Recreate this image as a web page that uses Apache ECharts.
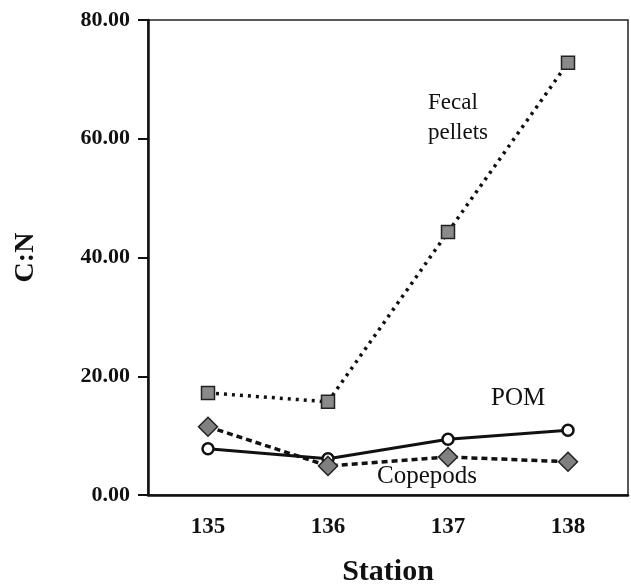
<!DOCTYPE html>
<html>
<head>
<meta charset="utf-8">
<script src="https://cdn.jsdelivr.net/npm/echarts@6/dist/echarts.min.js"></script>
<style>
  html, body { margin: 0; padding: 0; background: #fff; }
  #main { width: 631px; height: 585px; }
</style>
</head>
<body>
<div id="main"></div>
<script>
var stations = ['135', '136', '137', '138'];
var fecalPellets = [17.2, 15.7, 44.3, 72.8];
var pom = [7.8, 6.1, 9.4, 10.9];
var copepods = [11.5, 4.9, 6.4, 5.6];
var yTicks = [0, 20, 40, 60, 80];

var serif = '"Liberation Serif", "DejaVu Serif", serif';
var myChart = echarts.init(document.getElementById('main'));

myChart.setOption({
  animation: false,
  grid: {
    left: 148, right: 3, top: 20, bottom: 90,
    outerBoundsMode: 'none',
    containLabel: false,
    show: true, borderColor: '#222', borderWidth: 1.5
  },
  xAxis: {
    type: 'category',
    data: stations,
    boundaryGap: true,
    name: 'Station',
    nameLocation: 'middle',
    nameGap: 62,
    nameTextStyle: { fontFamily: serif, fontSize: 30, fontWeight: 'bold', color: '#111' },
    axisLine: { lineStyle: { color: '#111', width: 2.5 } },
    axisTick: { alignWithLabel: true, length: 9, lineStyle: { color: '#111', width: 2 } },
    axisLabel: { fontFamily: serif, fontSize: 23, fontWeight: 'bold', color: '#111', margin: 21 },
    splitLine: { show: false }
  },
  yAxis: {
    type: 'value',
    min: yTicks[0],
    max: yTicks[yTicks.length - 1],
    interval: 20,
    name: 'C:N',
    nameLocation: 'middle',
    nameGap: 108,
    nameRotate: 90,
    nameTextStyle: { fontFamily: serif, fontSize: 28, fontWeight: 'bold', color: '#111' },
    axisLine: { show: true, lineStyle: { color: '#111', width: 2.5 } },
    axisTick: { show: true, length: 10, lineStyle: { color: '#111', width: 2 } },
    axisLabel: {
      fontFamily: serif, fontSize: 22, fontWeight: 'bold', color: '#111', margin: 18,
      formatter: function (v) { return v.toFixed(2); }
    },
    splitLine: { show: false }
  },
  series: [
    {
      name: 'Fecal pellets',
      type: 'line',
      data: fecalPellets,
      symbol: 'rect',
      symbolSize: 13,
      itemStyle: { color: '#8a8a8a', borderColor: '#222', borderWidth: 1.5 },
      lineStyle: { color: '#111', width: 3.5, type: [3, 5] }
    },
    {
      name: 'POM',
      type: 'line',
      data: pom,
      symbol: 'circle',
      symbolSize: 11,
      itemStyle: { color: '#fff', borderColor: '#111', borderWidth: 2.5 },
      lineStyle: { color: '#111', width: 3 }
    },
    {
      name: 'Copepods',
      type: 'line',
      data: copepods,
      symbol: 'diamond',
      symbolSize: 19,
      itemStyle: { color: '#808080', borderColor: '#222', borderWidth: 1.5 },
      lineStyle: { color: '#111', width: 3.5, type: [6, 4] }
    }
  ],
  graphic: [
    { type: 'text', left: 428, top: 88, style: { text: 'Fecal\npellets', font: '23px ' + serif, fill: '#111', lineHeight: 30 } },
    { type: 'text', left: 491, top: 386, style: { text: 'POM', font: '25px ' + serif, fill: '#111' } },
    { type: 'text', left: 377, top: 464, style: { text: 'Copepods', font: '25px ' + serif, fill: '#111' } }
  ]
});
</script>
</body>
</html>
